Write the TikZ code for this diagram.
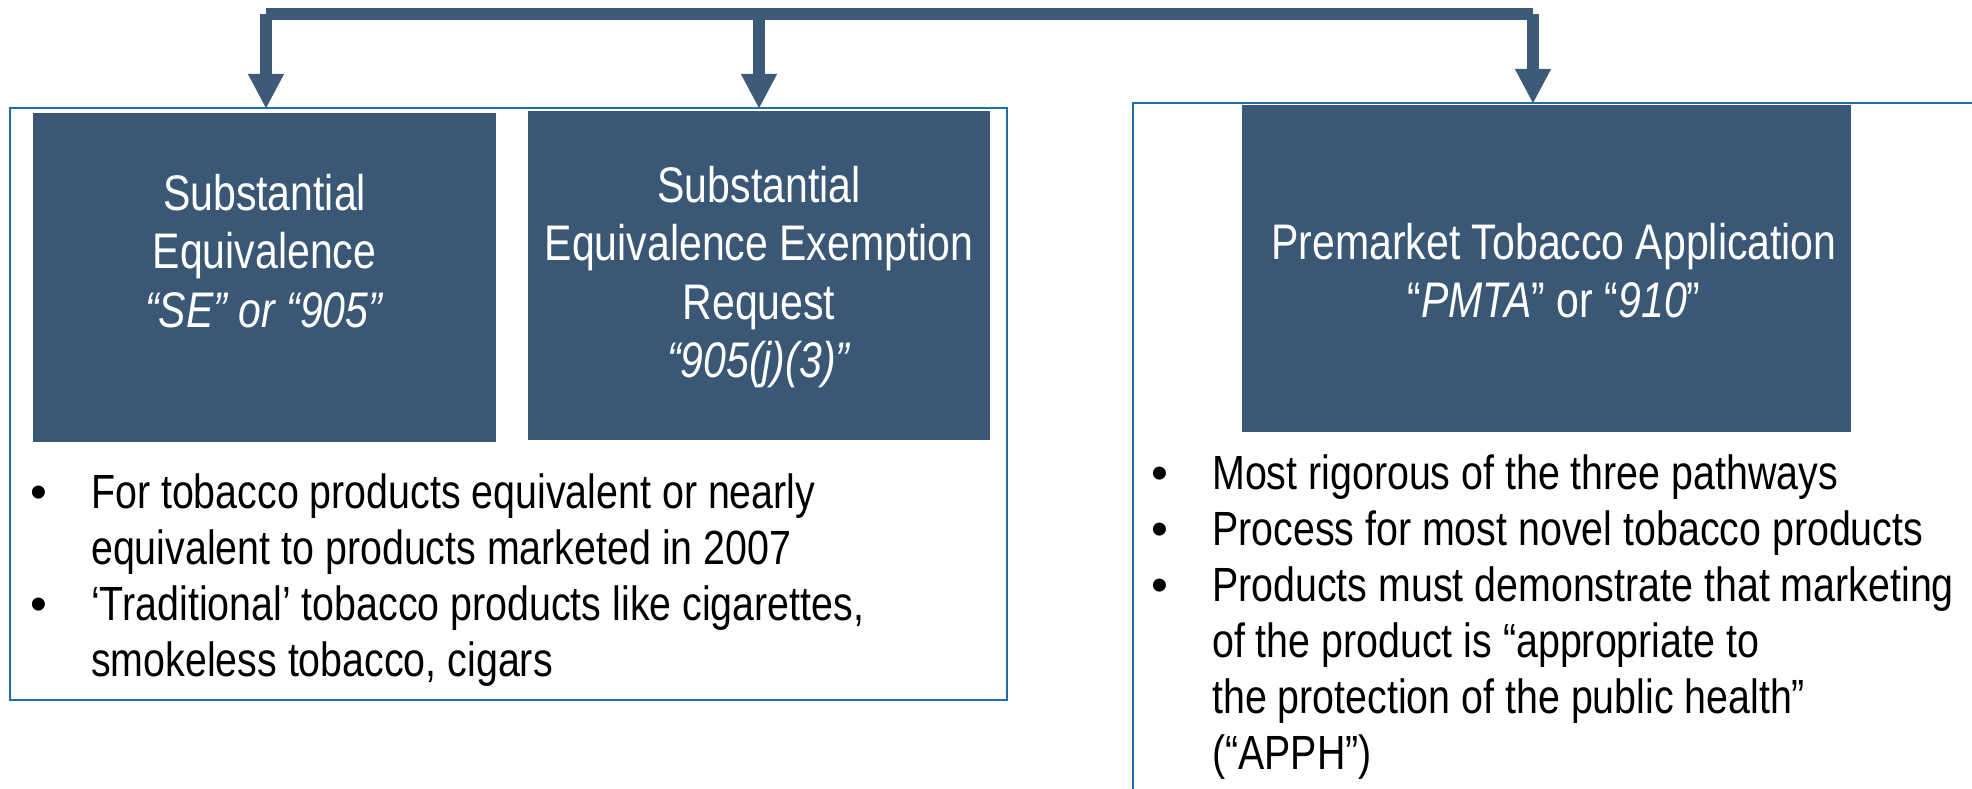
\documentclass[tikz,border=0pt]{standalone}
\usepackage{fontspec}
\setmainfont[FakeStretch=0.82]{Liberation Sans}
\newfontfamily\bulletfont{Liberation Sans}
\usetikzlibrary{arrows.meta}
\definecolor{boxfill}{HTML}{3A5876}
\definecolor{conncol}{HTML}{3D5A78}
\definecolor{framecol}{HTML}{1E6FA8}
\tikzset{
  pathbox/.style={fill=boxfill, draw=none, inner sep=0pt, outer sep=0pt, anchor=north west},
  framebox/.style={draw=framecol, line width=2pt, inner sep=0pt, outer sep=0pt, anchor=north west},
  conn/.style={draw=conncol, line width=12pt, line join=miter},
  tipend/.style={-{Triangle[width=36pt,length=34pt,line width=0.5pt]}},
  boxtext/.style={text=white, inner sep=0pt, anchor=base, font=\fontsize{50}{58.5}\selectfont},
  bullettext/.style={text=black, inner sep=0pt, anchor=base west, font=\fontsize{48}{56}\selectfont},
}
\newcommand{\bul}{\bulletfont\textbullet}
\begin{document}
\begin{tikzpicture}[x=1pt,y=-1pt]
\useasboundingbox (0,0) rectangle (1972,789);
\fill[white] (0,0) rectangle (1972,789);
% frames
\node[framebox, minimum width=997pt, minimum height=592pt] (leftframe) at (10,108) {};
\coordinate (rfTL) at (1133,103);
\coordinate (rfBL) at (1133,800);
\coordinate (rfTR) at (1985,103);
\draw[draw=framecol, line width=2pt] (rfBL) -- (rfTL) -- (rfTR);
% pathway boxes
\node[pathbox, minimum width=463pt, minimum height=329pt] (lbox) at (33,113) {};
\node[pathbox, minimum width=462pt, minimum height=329pt] (mbox) at (528,111) {};
\node[pathbox, minimum width=609pt, minimum height=327pt] (rbox) at (1242,105) {};
% box texts
\node[boxtext] (ltext) at (264.5,210) {\begin{tabular}[t]{@{}c@{}}Substantial\\Equivalence\\\textit{“SE” or “905”}\end{tabular}};
\node[boxtext] (mtext) at (759,202) {\begin{tabular}[t]{@{}c@{}}Substantial\\Equivalence Exemption\\Request\\\textit{“905(j)(3)”}\end{tabular}};
\node[boxtext] (rtext) at (1554,259) {\begin{tabular}[t]{@{}c@{}}Premarket Tobacco Application\\“\textit{PMTA}” or “\textit{910}”\end{tabular}};
% connectors
\coordinate (busL) at (266,14);
\coordinate (busM) at (759,14);
\coordinate (busR) at (1533,14);
\draw[conn, tipend] (busL) -- (busL |- leftframe.north);
\draw[conn] (busL) -- (busR);
\draw[conn, tipend] (busR) -- (busR |- rfTL);
\draw[conn, tipend] (busM) -- (busM |- leftframe.north);
% bullet lists
\node[bullettext] (lbullets) at (30,508) {\begin{tabular}[t]{@{}p{61pt}@{}l@{}}
\bul & For tobacco products equivalent or nearly\\
 & equivalent to products marketed in 2007\\
\bul & ‘Traditional’ tobacco products like cigarettes,\\
 & smokeless tobacco, cigars
\end{tabular}};
\node[bullettext] (rbullets) at (1151,489) {\begin{tabular}[t]{@{}p{61pt}@{}l@{}}
\bul & Most rigorous of the three pathways\\
\bul & Process for most novel tobacco products\\
\bul & Products must demonstrate that marketing\\
 & of the product is “appropriate to\\
 & the protection of the public health”\\
 & (“APPH”)
\end{tabular}};
\end{tikzpicture}
\end{document}
